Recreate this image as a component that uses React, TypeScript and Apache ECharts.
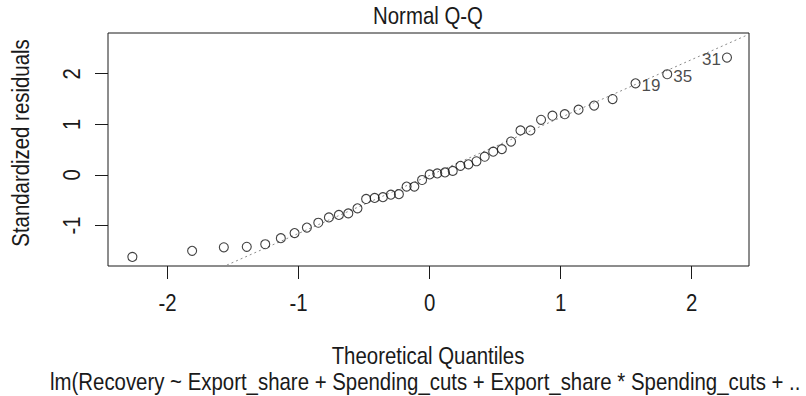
import React, { useEffect, useRef } from "react";
import * as echarts from "echarts";

// Normal Q-Q plot of standardized residuals from a linear model (43 observations)
const theoreticalQuantiles = [
  -2.269, -1.813, -1.571, -1.396, -1.255, -1.136, -1.031, -0.937, -0.85, -0.769,
  -0.693, -0.621, -0.551, -0.485, -0.42, -0.357, -0.296, -0.235, -0.176, -0.117,
  -0.058, 0, 0.058, 0.117, 0.176, 0.235, 0.296, 0.357, 0.42, 0.485,
  0.551, 0.621, 0.693, 0.769, 0.85, 0.937, 1.031, 1.136, 1.255, 1.396,
  1.571, 1.813, 2.269,
];

const standardizedResiduals = [
  -1.62, -1.5, -1.43, -1.42, -1.37, -1.25, -1.15, -1.04, -0.945, -0.84,
  -0.79, -0.76, -0.66, -0.475, -0.455, -0.44, -0.39, -0.38, -0.23, -0.23,
  -0.1, 0.01, 0.03, 0.05, 0.08, 0.18, 0.21, 0.27, 0.36, 0.46,
  0.51, 0.66, 0.88, 0.88, 1.09, 1.17, 1.2, 1.29, 1.37, 1.5,
  1.81, 1.99, 2.32,
];

// the three most extreme residuals, tagged with their observation numbers
const labelledIndex = [40, 41, 42];
const labelledIds = ["19", "35", "31"];
const labelledSide = ["right", "right", "left"];

// reference line through the quartiles
const qqIntercept = -0.01;
const qqSlope = 1.145;

const xTicks = [-2, -1, 0, 1, 2];
const yTicks = [-1, 0, 1, 2];
const xTickLabels = ["-2", "-1", "0", "1", "2"];
const yTickLabels = ["-1", "0", "1", "2"];

const xRange = [-2.455, 2.437];
const yRange = [-1.8, 2.805];

const titleText = "Normal Q-Q";
const xTitle = "Theoretical Quantiles";
const yTitle = "Standardized residuals";
const captionText = "lm(Recovery ~ Export_share + Spending_cuts + Export_share * Spending_cuts + ..";

const FONT = "'Liberation Sans', Arial, sans-serif";
const INK = "#1a1a1a";
const NARROW = 0.85;

export default function App() {
  const ref = useRef<HTMLDivElement>(null);

  useEffect(() => {
    document.body.style.margin = "0";
    if (!ref.current) return;
    const chart = echarts.init(ref.current, undefined, { renderer: "svg" });

    const points = theoreticalQuantiles.map((q, i) => {
      const k = labelledIndex.indexOf(i);
      const item: any = { value: [q, standardizedResiduals[i]] };
      if (k >= 0) {
        item.label = {
          show: true,
          formatter: labelledIds[k],
          position: labelledSide[k],
          distance: 1,
          offset: [0, 2],
          fontFamily: FONT,
          fontSize: 17,
          color: INK,
        };
      }
      return item;
    });

    const lineData = [
      [xRange[0], qqIntercept + qqSlope * xRange[0]],
      [xRange[1], qqIntercept + qqSlope * xRange[1]],
    ];

    chart.setOption({
      animation: false,
      backgroundColor: "#fff",
      grid: {
        left: 108,
        right: 57,
        top: 33,
        bottom: 130,
        show: true,
        borderColor: INK,
        borderWidth: 1,
        backgroundColor: "transparent",
      },
      xAxis: {
        type: "value",
        min: xRange[0],
        max: xRange[1],
        axisLine: { show: false, onZero: false },
        splitLine: { show: false },
        axisTick: { show: true, length: 13, customValues: xTicks, lineStyle: { color: INK } },
        axisLabel: { show: false },
      },
      yAxis: {
        type: "value",
        min: yRange[0],
        max: yRange[1],
        axisLine: { show: false, onZero: false },
        splitLine: { show: false },
        axisTick: { show: true, length: 13, customValues: yTicks, lineStyle: { color: INK } },
        axisLabel: { show: false },
      },
      series: [
        {
          type: "line",
          data: lineData,
          symbol: "none",
          clip: true,
          silent: true,
          lineStyle: { color: "#8c8c8c", width: 1, type: [2, 3] },
          z: 1,
        },
        {
          type: "scatter",
          data: points,
          symbol: "circle",
          symbolSize: 9,
          itemStyle: { color: "rgba(255,255,255,0)", borderColor: "#111", borderWidth: 1.1 },
          z: 2,
        },
      ],
    });

    // texts set in a narrowed face, placed from the axes' own scales
    const txt = (text: string, x: number, y: number, extra: any = {}) => ({
      type: "text",
      x,
      y,
      scaleX: NARROW,
      silent: true,
      ...extra,
      style: {
        text,
        fontFamily: FONT,
        fontSize: 24,
        fill: INK,
        align: "center",
        verticalAlign: "middle",
        ...(extra.style || {}),
      },
    });

    const graphics: any[] = [];
    xTicks.forEach((v, i) => {
      const [px] = chart.convertToPixel({ gridIndex: 0 }, [v, 0]) as number[];
      graphics.push(txt(xTickLabels[i], px, 303));
    });
    yTicks.forEach((v, i) => {
      const [, py] = chart.convertToPixel({ gridIndex: 0 }, [0, v]) as number[];
      graphics.push(txt(yTickLabels[i], 72, py, { rotation: Math.PI / 2 }));
    });
    graphics.push(txt(titleText, 428, 16));
    graphics.push(txt(xTitle, 428, 356));
    graphics.push(txt(yTitle, 21, 143, { rotation: Math.PI / 2 }));
    graphics.push(txt(captionText, 50, 382, { style: { align: "left" } }));

    chart.setOption({ graphic: graphics });

    return () => chart.dispose();
  }, []);

  return <div ref={ref} style={{ width: 806, height: 396 }} />;
}
